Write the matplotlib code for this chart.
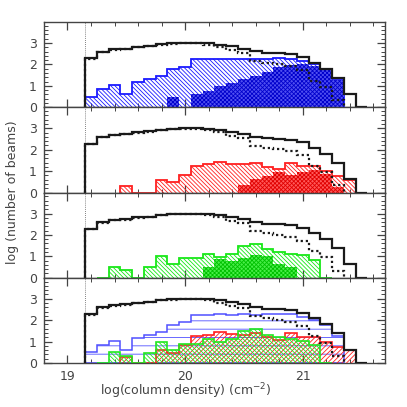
import numpy as np
import matplotlib
matplotlib.use("Agg")
import matplotlib.pyplot as plt
from matplotlib.ticker import MultipleLocator, FixedLocator

nan = np.nan

# 0.1 dex bins in log column density
edges = [19.15, 19.25, 19.35, 19.45, 19.55, 19.65, 19.75, 19.85, 19.95, 20.05,
         20.15, 20.25, 20.35, 20.45, 20.55, 20.65, 20.75, 20.85, 20.95, 21.05,
         21.15, 21.25, 21.35, 21.45, 21.55]

# all beams (solid black) and second sample (dotted black)
all_beams = [2.28, 2.60, 2.70, 2.74, 2.82, 2.86, 2.94, 2.98, 3.00, 3.00, 2.98, 2.92,
             2.84, 2.74, 2.61, 2.53, 2.52, 2.47, 2.34, 2.08, 1.80, 1.38, 0.63, 0.0]
dotted_beams = [2.26, 2.58, 2.68, 2.72, 2.80, 2.84, 2.92, 2.96, 2.98, 2.98, 2.92, 2.82,
                2.66, 2.55, 2.18, 2.08, 2.02, 1.92, 1.74, 1.24, 0.95, 0.33, nan, nan]

blue_all = [0.50, 0.85, 1.02, 0.62, 1.16, 1.32, 1.44, 1.79, 1.90, 2.24, 2.25, 2.27,
            2.25, 2.27, 2.24, 2.27, 2.28, 2.27, 2.16, 2.01, 1.76, 1.28, nan, nan]
blue_sub = [nan, nan, nan, nan, nan, nan, nan, 0.50, nan, 0.62, 0.77, 0.98,
            1.15, 1.31, 1.48, 1.65, 1.90, 1.97, 2.02, 1.92, 1.72, 1.25, nan, nan]

red_all = [nan, nan, nan, 0.30, 0.0, 0.0, 0.59, 0.47, 0.84, 1.24, 1.32, 1.43,
           1.34, 1.32, 1.38, 1.21, 1.08, 1.38, 1.22, 1.22, 1.00, 0.76, 0.60, 0.0]
red_sub = [nan, nan, nan, nan, nan, nan, nan, nan, nan, nan, nan, nan,
           nan, 0.33, 0.62, 0.78, 0.98, 0.82, 0.98, 1.03, 0.88, 0.27, nan, nan]

green_all = [nan, 0.0, 0.50, 0.34, 0.0, 0.48, 1.00, 0.62, 0.91, 0.90, 1.12, 0.97,
             1.12, 1.50, 1.59, 1.32, 1.22, 1.13, 1.04, 0.83, 0.0, nan, nan, nan]
green_sub = [nan, nan, nan, nan, nan, nan, nan, nan, nan, nan, 0.52, 0.86,
             0.80, 0.94, 1.07, 1.00, 0.62, 0.50, nan, nan, nan, nan, nan, nan]

plt.rcParams['hatch.linewidth'] = 0.6
ink = '#444444'
BACK = '\\' * 8   # fine "\\\\" hatching
FWD = '/' * 7


def runs(vals):
    """index ranges of consecutive non-nan bins"""
    ok = ~np.isnan(vals)
    out, i = [], 0
    while i < len(vals):
        if ok[i]:
            j = i
            while j < len(vals) and ok[j]:
                j += 1
            out.append((i, j))
            i = j
        else:
            i += 1
    return out


def hist(ax, vals, **kw):
    e = np.asarray(edges)
    v = np.asarray(vals, float)
    for i, j in runs(v):
        ax.stairs(v[i:j], e[i:j + 1], baseline=0, **kw)


def shaded(ax, vals, color, hatch, lw=1.3, z=2):
    hist(ax, vals, fill=True, facecolor='none', edgecolor=color, hatch=hatch,
         linewidth=0, zorder=z)
    hist(ax, vals, fill=False, color=color, linewidth=lw, zorder=z + 0.5)


def dense(ax, vals, face, color, z=3):
    hist(ax, vals, fill=True, facecolor=face, edgecolor=color, hatch='xxxxxxxx',
         linewidth=0, zorder=z)


def black(ax):
    hist(ax, all_beams, fill=False, color='#1a1a1a', linewidth=1.6, zorder=6)
    hist(ax, dotted_beams, fill=False, color='#1a1a1a', linewidth=1.6,
         linestyle=(0, (1, 1.3)), zorder=5)
    ax.axvline(edges[0], color='0.35', lw=0.6, ls=(0, (1, 1.5)), zorder=1)


fig, axes = plt.subplots(4, 1, figsize=(4.07, 4.07), dpi=100, sharex=True)
fig.subplots_adjust(left=0.108, right=0.946, top=0.946, bottom=0.108, hspace=0)

ax1, ax2, ax3, ax4 = axes

shaded(ax1, blue_all, '#1a1aff', BACK)
dense(ax1, blue_sub, '#5050f0', '#0000cc')
black(ax1)

shaded(ax2, red_all, '#ff2020', BACK)
dense(ax2, red_sub, '#ff5a5a', '#e00000')
black(ax2)

shaded(ax3, green_all, '#18e818', BACK)
dense(ax3, green_sub, '#48ee48', '#00c000')
black(ax3)

shaded(ax4, blue_all, '#5050ff', '--', lw=1.1, z=2)
shaded(ax4, red_all, '#ff2020', FWD, lw=1.2, z=3)
shaded(ax4, green_all, '#20e820', BACK, lw=1.2, z=4)
black(ax4)

for ax in axes:
    ax.set_xlim(18.8, 21.7)
    ax.set_ylim(0, 3.98)
    ax.xaxis.set_major_locator(FixedLocator([19, 20, 21]))
    ax.xaxis.set_minor_locator(MultipleLocator(0.2))
    ax.yaxis.set_major_locator(FixedLocator([0, 1, 2, 3]))
    ax.yaxis.set_minor_locator(MultipleLocator(0.2))
    ax.tick_params(which='both', direction='in', top=True, right=True,
                   color=ink, labelcolor=ink, labelsize=9, pad=5)
    ax.tick_params(which='major', length=6, width=0.9)
    ax.tick_params(which='minor', length=3, width=0.7)
    for s in ax.spines.values():
        s.set_color(ink)
        s.set_linewidth(1.0)

fig.text(0.03, 0.527, 'log (number of beams)', rotation=90, ha='center',
         va='center', fontsize=9, color=ink)
fig.text(0.457, 0.038, 'log(column density) (cm$^{-2}$)', ha='center',
         va='center', fontsize=9, color=ink)

fig.savefig('out.png', dpi=100)
